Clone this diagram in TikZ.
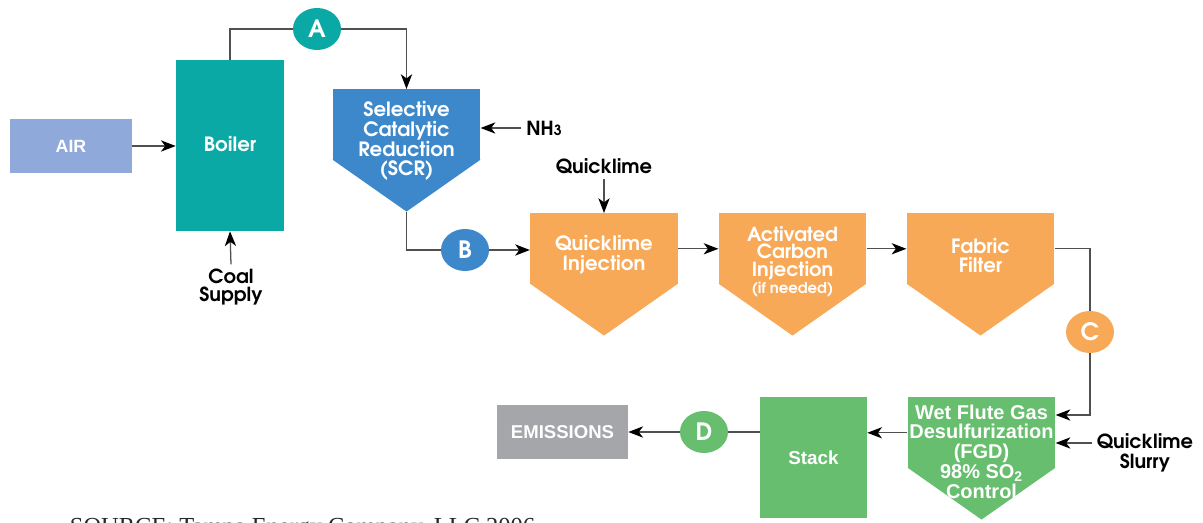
\documentclass[tikz,border=0pt]{standalone}
\usepackage{fontspec}
\setmainfont{Liberation Sans}
\newfontfamily\gothic{texgyreadventor-bold}[Extension=.otf]
\newfontfamily\srcfont{Liberation Serif}
\usepackage{xcolor}
\usepackage{tikz}
\usetikzlibrary{arrows.meta,positioning,shapes.geometric,calc,backgrounds}

\definecolor{airblue}{HTML}{8FA9DA}
\definecolor{boilteal}{HTML}{0AA9A6}
\definecolor{scrblue}{HTML}{3C88CA}
\definecolor{limeorng}{HTML}{F8A957}
\definecolor{fgdgreen}{HTML}{67BE6E}
\definecolor{emgray}{HTML}{A4A6A9}
\definecolor{linegray}{HTML}{505050}

\begin{document}
\begin{tikzpicture}[x=0.025cm,y=-0.025cm,
  box/.style={rectangle,fill=#1,inner sep=0pt,text=white,font=\bfseries\fontsize{12.6}{15}\selectfont},
  pent/.style={rectangle,fill=#1,minimum width=3.69cm,minimum height=1.775cm,anchor=north,inner sep=0pt},
  ptxt/.style={text=white,align=center,inner sep=0pt},
  ltr/.style={ellipse,fill=#1,minimum width=1.2cm,minimum height=1.05cm,inner sep=0pt,text=white,font=\gothic\fontsize{17}{18}\selectfont},
  lbl/.style={align=center,font=\gothic\fontsize{13.8}{15}\selectfont},
  ln/.style={draw=linegray,line width=0.9pt},
  ar/.style={ln,-{Stealth[length=10.5pt,width=8pt,inset=3pt,color=black]}}]
\useasboundingbox (0,0) rectangle (1203,523);

% boxes
\node[box=airblue,minimum width=3.05cm,minimum height=1.35cm] (air) at (71,146) {AIR};
\node[box=boilteal,minimum width=2.7cm,minimum height=4.275cm,font=\gothic\fontsize{14}{15}\selectfont] (boiler) at (230,145.5) {\raisebox{2pt}{Boiler}};
\node[pent=scrblue,label={[ptxt,yshift=-0.41cm,font=\gothic\fontsize{14}{13.9}\selectfont]center:Selective\\Catalytic\\Reduction\\(SCR)}] (scr) at (406.5,89) {};
\node[pent=limeorng,label={[ptxt,yshift=-0.15cm,font=\gothic\fontsize{14}{14.2}\selectfont]center:Quicklime\\Injection}] (qinj) at (604,213) {};
\node[pent=limeorng,label={[ptxt,yshift=-0.33cm,font=\gothic\fontsize{13.8}{12.5}\selectfont]center:Activated\\Carbon\\Injection\\{\fontsize{10.6}{12.5}\selectfont(if needed)}}] (aci) at (792.5,213) {};
\node[pent=limeorng,label={[ptxt,yshift=-0.16cm,font=\gothic\fontsize{14}{13.6}\selectfont]center:Fabric\\Filter}] (ff) at (980.5,213) {};
\node[pent=fgdgreen,label={[ptxt,yshift=-0.47cm,font=\bfseries\fontsize{14.2}{14.1}\selectfont]center:Wet Flute Gas\\Desulfurization\\(FGD)\\98\% SO\textsubscript{2}\\Control}] (fgd) at (981.5,397) {};
\node[box=fgdgreen,minimum width=2.675cm,minimum height=3.025cm,font=\bfseries\fontsize{13.4}{15}\selectfont] (stack) at (813.5,457.5) {Stack};
\node[box=emgray,minimum width=3.275cm,minimum height=1.35cm,font=\bfseries\fontsize{13.2}{15}\selectfont] (em) at (562.5,432) {EMISSIONS};

% tips of the pentagons
\begin{scope}[on background layer]
\foreach \n/\c in {scr/scrblue,qinj/limeorng,aci/limeorng,ff/limeorng,fgd/fgdgreen}
  \fill[\c] ($(\n.south west)+(0,-1)$) -- ($(\n.south east)+(0,-1)$) -- ($(\n.south)+(0,51)$) -- cycle;
\end{scope}
\coordinate (scrtip) at ($(scr.south)+(0,51)$);

% stream markers
\node[ltr=boilteal] (ca) at (317,29) {A};
\node[ltr=scrblue] (cb) at (465,250) {B};
\node[ltr=limeorng] (cc) at (1090,332) {C};
\node[ltr=fgdgreen] (cd) at (704,432) {D};

% feeds
\node[lbl] (nh3) at (544,128) {NH{\fontsize{10}{10}\selectfont 3}};
\node[lbl] (ql) at (604,166) {Quicklime};
\node[lbl,font=\gothic\fontsize{13.8}{12.2}\selectfont] (coal) at (231,287) {Coal\\Supply};
\node[lbl,font=\gothic\fontsize{13.8}{14.2}\selectfont] (slurry) at (1145,453) {Quicklime\\Slurry};

\node[anchor=base west,font=\srcfont\fontsize{17.4}{20}\selectfont,text=black!85] (src) at (65,535) {SOURCE: Tampa Energy Company, LLC 2006};

% connectors
\draw[ar] (air.east) -- (air.east -| boiler.west);
\draw[ar] (coal.north) -- (boiler.south);
\draw[ln] (boiler.north) |- (ca.west);
\draw[ar] (ca.east) -| (scr.north);
\draw[ar] (nh3.west) -- (nh3.west -| scr.east);
\draw[ln] (scrtip) |- (cb.west);
\draw[ar] (cb.east) -- (cb -| qinj.west);
\draw[ar] (ql.south) -- (qinj.north);
\draw[ar] (qinj.east) -- (aci.west);
\draw[ar] (aci.east) -- (ff.west);
\draw[ln] (ff.east) -| (cc.north);
\draw[ar] (cc.south) |- ($(fgd.north east)+(0,18)$);
\draw[ar] ([yshift=0.25cm]slurry.west) -- ([yshift=0.25cm]slurry.west -| fgd.east);
\draw[ar] (fgd.west) -- (fgd.west -| stack.east);
\draw[ln] (stack.west |- cd) -- (cd);
\draw[ar] (cd) -- (cd -| em.east);
\end{tikzpicture}
\end{document}
